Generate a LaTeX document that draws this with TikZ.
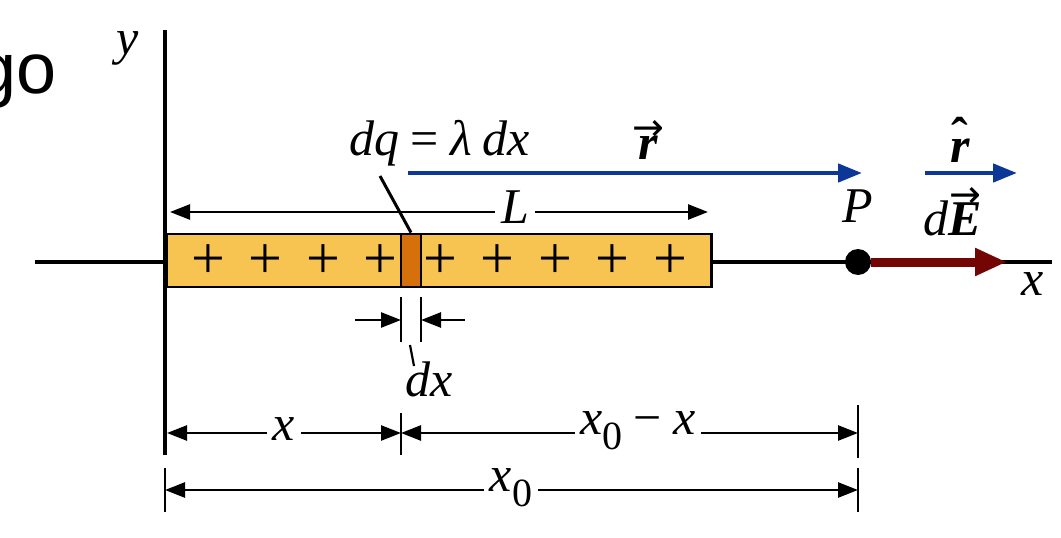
\documentclass[tikz,border=0pt]{standalone}
\usepackage{fontspec}
\setmainfont{Liberation Serif}
\newfontfamily\gofont{Liberation Sans}
\newfontfamily\arrowfont{DejaVu Sans}
\usetikzlibrary{arrows.meta}
\definecolor{rodyellow}{RGB}{247,196,82}
\definecolor{elemorange}{RGB}{214,112,10}
\definecolor{vecblue}{RGB}{12,55,150}
\definecolor{fieldred}{RGB}{115,5,5}
\newcommand\overmark[3]{\leavevmode\vbox{\offinterlineskip\halign{\hfil##\hfil\cr#1\cr\noalign{\kern#3}#2\cr}}}
\newcommand\vecarr{{\fontsize{38}{38}\selectfont\arrowfont\upshape →}}
\newcommand\subz{\raisebox{-0.3em}{\fontsize{40}{40}\selectfont\upshape 0}}
\newcommand\gapsp{\hspace{0.22em}}
\begin{document}
\begin{tikzpicture}[x=1pt,y=-1pt,
  font=\fontsize{50}{54}\selectfont\itshape,
  axis/.style={line width=3.5pt},
  dimarrow/.style={line width=2.6pt,-{Triangle[length=20pt,width=15pt]}},
  tick/.style={line width=2.6pt},
  lbl/.style={inner sep=3pt},
  gaplbl/.style={inner sep=6pt,fill=white},
  plus/.style={font=\fontsize{60}{60}\selectfont\upshape,inner sep=0pt},
  bluevec/.style={vecblue,line width=4.5pt,-{Triangle[length=24pt,width=18pt]}},
  redvec/.style={fieldred,line width=9pt,-{Triangle[length=32pt,width=26pt]}}]
\useasboundingbox (0,0) rectangle (1061,538);
\fill[white] (0,0) rectangle (1061,538);
% cropped text
\node[font=\fontsize{72}{76}\selectfont\gofont\upshape,anchor=base west,inner sep=0pt] (go) at (-24,93) {go};
% axes
\coordinate (xl) at (35,262); \coordinate (xr) at (1052,262);
\coordinate (yt) at (165,30); \coordinate (yb) at (165,455);
\draw[axis] (xl) -- (xr);
\draw[axis] (yt) -- (yb);
\node[lbl] (ylab) at (128,48) {y};
\node[lbl] (xlab) at (1033,284) {x};
% rod
\node[draw,line width=2.8pt,fill=rodyellow,minimum width=545pt,minimum height=53pt,inner sep=0pt,anchor=west] (rod) at (165,260.5) {};
\node[draw,line width=2.8pt,fill=elemorange,minimum width=20pt,minimum height=53pt,inner sep=0pt] (elem) at (411,260.5) {};
\foreach \i/\px in {1/208,2/265,3/323,4/380,5/440,6/497,7/555,8/612,9/670}
  \node[plus] (p\i) at (\px,262) {+};
% L dimension
\node[gaplbl] (L) at (515,207) {L};
\coordinate (La) at (170,212); \coordinate (Lb) at (708,212);
\draw[dimarrow] (L.west |- La) -- (La);
\draw[dimarrow] (L.east |- Lb) -- (Lb);
% dq label
\node[lbl] (dq) at (440,143) {dq\gapsp\upshape=\gapsp\itshape λ\gapsp dx};
\coordinate (dqlead) at (380,176);
\draw[line width=3pt] (dqlead) -- (elem.north);
% r vector
\coordinate (rs) at (408,173); \coordinate (re) at (862,173);
\draw[bluevec] (rs) -- (re);
\node[lbl] (rlab) at (648,140) {\overmark{\vecarr}{\bfseries r}{-5pt}};
% point P
\node[circle,fill=black,minimum size=26pt,inner sep=0pt] (P) at (858,262) {};
\node[lbl] (Plab) at (858,206) {P};
% rhat
\coordinate (hs) at (925,173); \coordinate (he) at (1017,173);
\draw[bluevec] (hs) -- (he);
\node[lbl] (rhlab) at (960,140) {\overmark{{\bfseries\upshape ˆ}}{\bfseries r}{-14pt}};
% dE
\coordinate (Ee) at (1007,262);
\draw[redvec] (P.east) -- (Ee);
\node[lbl] (dElab) at (953,212) {d\overmark{\vecarr}{\bfseries E}{-5pt}};
% dx dimension
\coordinate (t1a) at (401,297); \coordinate (t1b) at (401,342);
\coordinate (t2a) at (421,297); \coordinate (t2b) at (421,342);
\draw[tick] (t1a) -- (t1b);
\draw[tick] (t2a) -- (t2b);
\coordinate (dxa) at (355,320); \coordinate (dxb) at (465,320);
\draw[dimarrow] (dxa) -- (t1a |- dxa);
\draw[dimarrow] (dxb) -- (t2a |- dxb);
\node[lbl] (dx) at (429,379) {dx};
\coordinate (dxlead) at (410,345); \coordinate (dxleadend) at (414,366);
\draw[line width=2.2pt] (dxlead) -- (dxleadend);
% bottom dimension row 1
\coordinate (b1a) at (401,413); \coordinate (b1b) at (401,455);
\coordinate (b2a) at (858,405); \coordinate (b2b) at (858,458);
\draw[tick] (b1a) -- (b1b);
\draw[tick] (b2a) -- (b2b);
\node[gaplbl] (xd) at (284,429) {x};
\node[gaplbl] (x0x) at (638,431) {x\subz\gapsp\upshape−\gapsp\itshape x};
\draw[dimarrow] (xd.west |- 0,433) -- (167,433);
\draw[dimarrow] (xd.east |- 0,433) -- (b1a |- 0,433);
\draw[dimarrow] (x0x.west |- 0,433) -- (b1a |- 0,433);
\draw[dimarrow] (x0x.east |- 0,433) -- (b2a |- 0,433);
% bottom dimension row 2
\coordinate (c1a) at (165,468); \coordinate (c1b) at (165,512);
\coordinate (c2a) at (858,468); \coordinate (c2b) at (858,512);
\draw[tick] (c1a) -- (c1b);
\draw[tick] (c2a) -- (c2b);
\node[gaplbl] (x0) at (511,488) {x\subz};
\draw[dimarrow] (x0.west |- 0,490) -- (c1a |- 0,490);
\draw[dimarrow] (x0.east |- 0,490) -- (c2a |- 0,490);
\end{tikzpicture}
\end{document}
